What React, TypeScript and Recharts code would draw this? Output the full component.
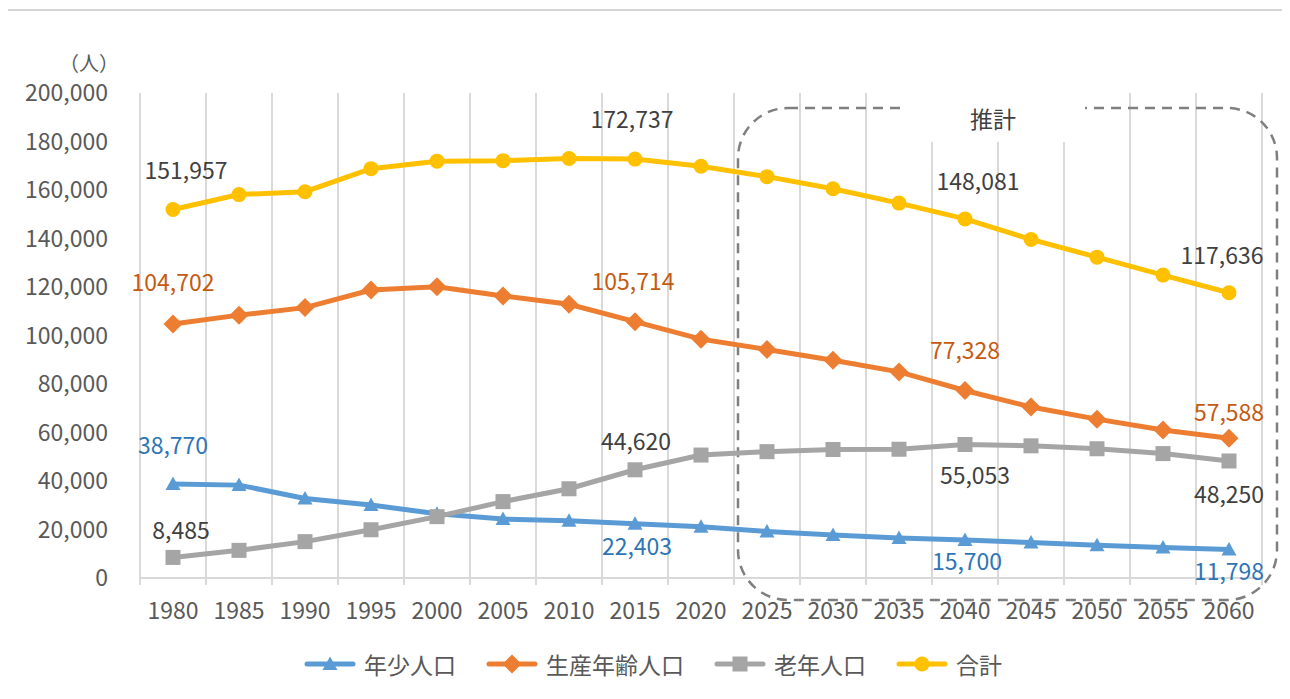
import React from 'react';
import { LineChart, Line, XAxis, YAxis, CartesianGrid, Legend, LabelList, ReferenceArea } from 'recharts';

const years = ['1980', '1985', '1990', '1995', '2000', '2005', '2010', '2015', '2020', '2025', '2030', '2035', '2040', '2045', '2050', '2055', '2060'];
const youth = [38770, 38300, 32800, 30100, 26500, 24300, 23600, 22403, 21100, 19200, 17700, 16500, 15700, 14600, 13500, 12600, 11798];
const working = [104702, 108400, 111500, 118750, 120100, 116300, 112900, 105714, 98500, 94200, 89800, 85000, 77328, 70500, 65500, 61000, 57588];
const elderly = [8485, 11400, 15000, 19900, 25300, 31500, 36800, 44620, 50700, 52100, 53000, 53100, 55053, 54500, 53300, 51300, 48250];
const total = [151957, 158100, 159300, 168800, 171900, 172100, 173000, 172737, 169800, 165500, 160500, 154600, 148081, 139600, 132300, 124900, 117636];
const yTicks = [0, 20000, 40000, 60000, 80000, 100000, 120000, 140000, 160000, 180000, 200000];
const seriesNames = ['年少人口', '生産年齢人口', '老年人口', '合計'];
const forecastFrom = '2025';
const forecastTo = '2060';
const forecastLabel = '推計';
const unitLabel = '（人）';

const data = years.map((y, i) => ({
  i,
  year: y,
  youth: youth[i],
  working: working[i],
  elderly: elderly[i],
  total: total[i],
}));

const W = 1282;
const H = 691;
const M = { top: 85, right: 28, left: 22, bottom: 15 };
const Y_AXIS_W = 110;
const PLOT_W = W - M.left - M.right - Y_AXIS_W;
const HALF = PLOT_W / years.length / 2;
const FONT = "'Noto Sans CJK JP', 'Noto Sans', sans-serif";
const FS = 23;

const C = {
  youth: '#5b9bd5',
  working: '#ed7d31',
  elderly: '#a5a5a5',
  total: '#ffc000',
};
const LC = {
  youth: '#2e75b6',
  working: '#c55a11',
  elderly: '#404040',
  total: '#404040',
};

// label offsets (style config): index -> [dx, dy]
const labelSpec: Record<string, Record<number, [number, number]>> = {
  total: { 0: [13, -39], 7: [-3, -39], 12: [13, -37], 16: [-7, -37] },
  working: { 0: [0, -41], 7: [-2, -40], 12: [0, -40], 16: [0, -26] },
  elderly: { 0: [8, -27], 7: [1, -28], 12: [10, 31], 16: [0, 34] },
  youth: { 0: [0, -38], 7: [2, 23], 12: [2, 22], 16: [0, 22] },
};

const fmt = (v: number) => v.toLocaleString('en-US');

const shapeFor = (key: string, cx: number, cy: number, color: string) => {
  if (key === 'youth') {
    return <polygon points={`${cx},${cy - 7.5} ${cx + 7.5},${cy + 6} ${cx - 7.5},${cy + 6}`} fill={color} />;
  }
  if (key === 'working') {
    return <polygon points={`${cx},${cy - 9.5} ${cx + 9.5},${cy} ${cx},${cy + 9.5} ${cx - 9.5},${cy}`} fill={color} />;
  }
  if (key === 'elderly') {
    return <rect x={cx - 7.5} y={cy - 7.5} width={15} height={15} fill={color} />;
  }
  return <circle cx={cx} cy={cy} r={7.5} fill={color} />;
};

const makeDot = (key: string) => (props: any) => {
  const { cx, cy, index } = props;
  if (cx == null || cy == null) return <g key={`${key}-d-${index}`} />;
  return <g key={`${key}-d-${index}`}>{shapeFor(key, cx, cy, (C as any)[key])}</g>;
};

const makeLabel = (key: string) => (props: any) => {
  const { x, y, value, index } = props;
  const spec = labelSpec[key][index];
  if (!spec) return null;
  return (
    <text
      x={x + spec[0]}
      y={y + spec[1]}
      dy="0.355em"
      textAnchor="middle"
      fill={(LC as any)[key]}
      fontSize={FS}
      fontFamily={FONT}
    >
      {fmt(value)}
    </text>
  );
};

const XTick = (props: any) => {
  const { x, y, payload } = props;
  const idx = payload.value as number;
  return (
    <g>
      <line x1={x - HALF} x2={x - HALF} y1={y} y2={y + 7} stroke="#d9d9d9" strokeWidth={2} />
      {idx === years.length - 1 && (
        <line x1={x + HALF} x2={x + HALF} y1={y} y2={y + 7} stroke="#d9d9d9" strokeWidth={2} />
      )}
      <text x={x} y={y + 33} dy="0.355em" textAnchor="middle" fill="#595959" fontSize={FS} fontFamily={FONT}>
        {years[idx]}
      </text>
    </g>
  );
};

const YTick = (props: any) => {
  const { x, y, payload } = props;
  return (
    <text x={x} y={y} dy="0.355em" textAnchor="end" fill="#595959" fontSize={FS} fontFamily={FONT}>
      {fmt(payload.value)}
    </text>
  );
};

const ForecastBox = (props: any) => {
  const { x, y, width, height } = props;
  const x0 = x + 4;
  const x1 = x + width + 15;
  const y0 = y + 15;
  const y1 = y + height + 22;
  const r = 50;
  const d = `M ${x0 + r} ${y0} L ${x1 - r} ${y0} A ${r} ${r} 0 0 1 ${x1} ${y0 + r} L ${x1} ${y1 - r} A ${r} ${r} 0 0 1 ${x1 - r} ${y1} L ${x0 + r} ${y1} A ${r} ${r} 0 0 1 ${x0} ${y1 - r} L ${x0} ${y0 + r} A ${r} ${r} 0 0 1 ${x0 + r} ${y0} Z`;
  const gapC = x0 + (x1 - x0) * 0.477;
  const gapW = 180;
  return (
    <g>
      <path d={d} fill="none" stroke="#7f7f7f" strokeWidth={2.5} strokeDasharray="10 7" />
      <rect x={gapC - gapW / 2} y={y - 4} width={gapW} height={y0 - y + 38} fill="#ffffff" />
      <text x={gapC - 2} y={y0 + 12} dy="0.355em" textAnchor="middle" fill="#404040" fontSize={FS} fontFamily={FONT}>
        {forecastLabel}
      </text>
    </g>
  );
};

const legendKeys = ['youth', 'working', 'elderly', 'total'];

const LegendContent = (props: any) => {
  const payload = [...(props.payload || [])].sort(
    (a: any, b: any) => legendKeys.indexOf(a.dataKey) - legendKeys.indexOf(b.dataKey)
  );
  return (
    <div
      style={{
        display: 'flex',
        justifyContent: 'center',
        alignItems: 'center',
        height: 40,
        paddingLeft: 14,
        fontFamily: FONT,
        fontSize: FS,
        color: '#595959',
      }}
    >
      {payload.map((p: any, k: number) => {
        const key = p.dataKey;
        const color = (C as any)[key];
        return (
          <div key={k} style={{ display: 'flex', alignItems: 'center', marginRight: k < payload.length - 1 ? 30 : 0 }}>
            <svg width={52} height={24} style={{ marginRight: 8 }}>
              <line x1={3} x2={49} y1={12} y2={12} stroke={color} strokeWidth={5} strokeLinecap="round" />
              {shapeFor(key, 26, 12, color)}
            </svg>
            <span style={{ lineHeight: '24px' }}>{p.value}</span>
          </div>
        );
      })}
    </div>
  );
};

export default function App() {
  return (
    <div
      style={{
        position: 'relative',
        marginLeft: -3,
        paddingLeft: 3,
        width: W,
        height: H,
        fontFamily: FONT,
      }}
    >
      <LineChart width={W} height={H} data={data} margin={M}>
        <CartesianGrid
          horizontal={false}
          stroke="#d9d9d9"
          strokeWidth={2}
          verticalCoordinatesGenerator={({ offset }: any) =>
            Array.from({ length: years.length + 1 }, (_, k) => offset.left + (k * offset.width) / years.length)
          }
        />
        <XAxis
          dataKey="i"
          type="number"
          domain={[-0.5, years.length - 0.5]}
          ticks={years.map((_, i) => i)}
          interval={0}
          tick={<XTick />}
          tickLine={false}
          tickSize={0}
          tickMargin={0}
          axisLine={{ stroke: '#d9d9d9', strokeWidth: 2 }}
          height={66}
          allowDataOverflow
        />
        <YAxis
          type="number"
          domain={[0, 200000]}
          ticks={yTicks}
          interval={0}
          width={Y_AXIS_W}
          axisLine={false}
          tickLine={false}
          tickSize={6}
          tickMargin={26}
          tick={<YTick />}
          label={{
            content: (p: any) => {
              const vb = p.viewBox || {};
              return (
                <text
                  x={vb.x + vb.width - 21}
                  y={vb.y - 29}
                  dy="0.355em"
                  textAnchor="end"
                  fill="#595959"
                  fontSize={20}
                  fontFamily={FONT}
                >
                  {unitLabel}
                </text>
              );
            },
          }}
        />
        <ReferenceArea
          x1={years.indexOf(forecastFrom) - 0.5}
          x2={years.indexOf(forecastTo) + 0.5}
          ifOverflow="visible"
          shape={<ForecastBox />}
        />
        <Legend verticalAlign="bottom" height={40} content={<LegendContent />} />
        <Line
          dataKey="youth"
          name={seriesNames[0]}
          stroke={C.youth}
          strokeWidth={5}
          dot={makeDot('youth')}
          activeDot={false}
          isAnimationActive={false}
        >
          <LabelList dataKey="youth" content={makeLabel('youth')} />
        </Line>
        <Line
          dataKey="working"
          name={seriesNames[1]}
          stroke={C.working}
          strokeWidth={5}
          dot={makeDot('working')}
          activeDot={false}
          isAnimationActive={false}
        >
          <LabelList dataKey="working" content={makeLabel('working')} />
        </Line>
        <Line
          dataKey="elderly"
          name={seriesNames[2]}
          stroke={C.elderly}
          strokeWidth={5}
          dot={makeDot('elderly')}
          activeDot={false}
          isAnimationActive={false}
        >
          <LabelList dataKey="elderly" content={makeLabel('elderly')} />
        </Line>
        <Line
          dataKey="total"
          name={seriesNames[3]}
          stroke={C.total}
          strokeWidth={5}
          dot={makeDot('total')}
          activeDot={false}
          isAnimationActive={false}
        >
          <LabelList dataKey="total" content={makeLabel('total')} />
        </Line>
      </LineChart>
      <div
        style={{
          position: 'absolute',
          left: 0,
          top: 1,
          width: W - 2,
          height: H + 20,
          borderTop: '2px solid #d6d6d6',
          borderLeft: '2px solid #d6d6d6',
          boxSizing: 'border-box',
          pointerEvents: 'none',
        }}
      />
    </div>
  );
}
